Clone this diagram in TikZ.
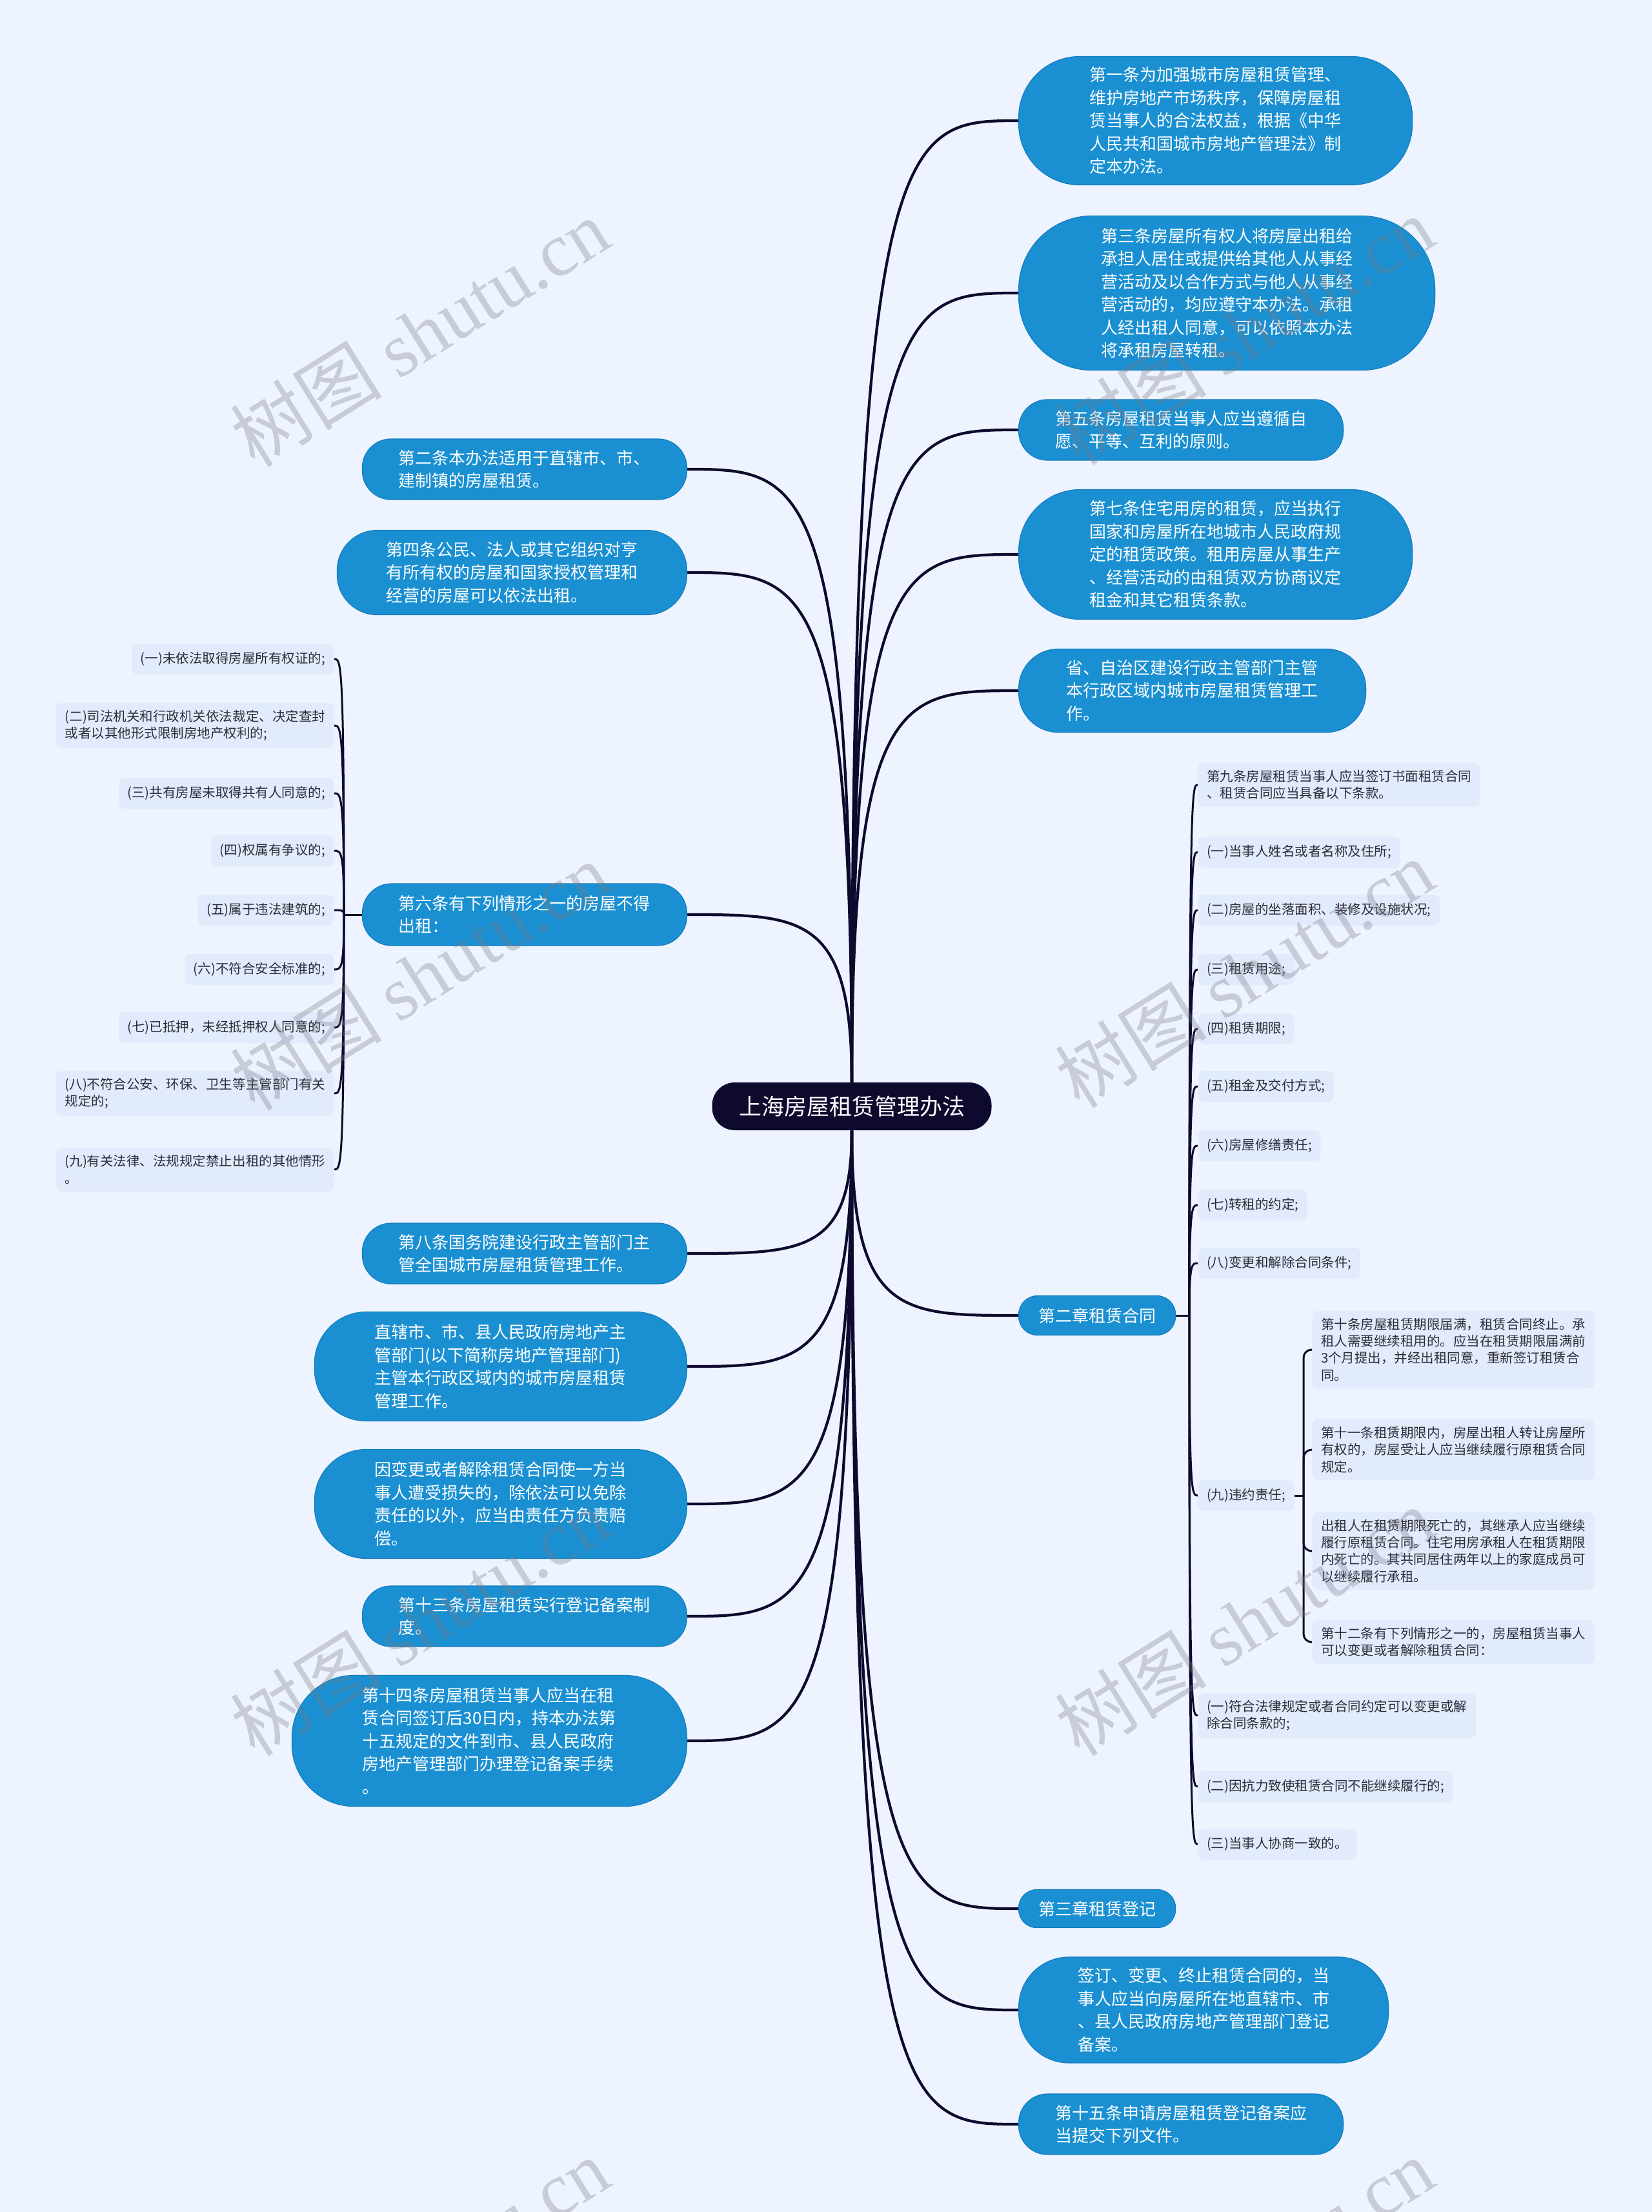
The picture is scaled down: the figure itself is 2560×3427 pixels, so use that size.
\documentclass[tikz,border=0pt]{standalone}
\usepackage{fontspec}
\setmainfont{Noto Sans CJK SC}
\newfontfamily\wmlatin{Liberation Serif}
\usetikzlibrary{calc}
\definecolor{bgc}{RGB}{238,244,255}
\definecolor{itemc}{RGB}{226,235,252}
\definecolor{bluec}{RGB}{26,144,210}
\definecolor{bluedk}{RGB}{22,125,190}
\definecolor{rootc}{RGB}{14,10,46}
\definecolor{linec}{RGB}{14,10,46}
\definecolor{itemtxt}{RGB}{45,45,55}
\definecolor{wmc}{RGB}{120,125,135}
\pgfdeclarelayer{bg}\pgfdeclarelayer{lines}\pgfdeclarelayer{fg}
\pgfsetlayers{bg,lines,main,fg}
\newcommand\conn[3]{\draw[#1] (#2) .. controls (#2 |- #3) and ($(#2 |- #3)!0.3!(#3)$) .. (#3);}
\begin{document}
\begin{tikzpicture}[x=0.4pt,y=-0.4pt,line cap=round,
  bnode/.style 2 args={fill=bluec, draw=bluedk, line width=0.5pt, text=white,
    font=\fontsize{10.4pt}{14.2pt}\selectfont, align=left, inner sep=0pt,
    minimum width=#1*0.4pt, minimum height=#2*0.4pt, rounded corners=#2*0.19pt},
  rootnode/.style={fill=rootc, text=white, font=\fontsize{14pt}{16pt}\selectfont,
    inner sep=0pt, minimum width=173.2pt, minimum height=29.6pt, rounded corners=14pt},
  item/.style={fill=itemc, text=itemtxt, font=\fontsize{8.2pt}{10.5pt}\selectfont,
    align=left, rounded corners=3.5pt, inner xsep=5.4pt, inner ysep=4.6pt, minimum height=19.2pt},
  mainline/.style={draw=linec, line width=1.7pt},
  subline/.style={draw=linec, line width=1.2pt},
  wm/.style={text=wmc, opacity=0.33, rotate=32, font=\fontsize{47pt}{47pt}\selectfont}]
\useasboundingbox (0,0) rectangle (2560,3427);
\begin{pgfonlayer}{bg}
\fill[bgc] (0,0) rectangle (2560,3427);
\end{pgfonlayer}

\node[rootnode] (root) at (1320,1714) {上海房屋租赁管理办法};

% right main branches
\node[bnode={610}{199}, anchor=west] (r1) at (1578,187) {第一条为加强城市房屋租赁管理、\\维护房地产市场秩序，保障房屋租\\赁当事人的合法权益，根据《中华\\人民共和国城市房地产管理法》制\\定本办法。};
\node[bnode={645}{239}, anchor=west] (r2) at (1578,454) {第三条房屋所有权人将房屋出租给\\承担人居住或提供给其他人从事经\\营活动及以合作方式与他人从事经\\营活动的，均应遵守本办法。承租\\人经出租人同意，可以依照本办法\\将承租房屋转租。};
\node[bnode={503}{94}, anchor=west] (r3) at (1578,666) {第五条房屋租赁当事人应当遵循自\\愿、平等、互利的原则。};
\node[bnode={610}{201}, anchor=west] (r4) at (1578,859) {第七条住宅用房的租赁，应当执行\\国家和房屋所在地城市人民政府规\\定的租赁政策。租用房屋从事生产\\、经营活动的由租赁双方协商议定\\租金和其它租赁条款。};
\node[bnode={538}{129}, anchor=west] (r5) at (1578,1070) {省、自治区建设行政主管部门主管\\本行政区域内城市房屋租赁管理工\\作。};
\node[bnode={243}{61}, anchor=west] (c2) at (1578,2038) {第二章租赁合同};
\node[bnode={243}{59}, anchor=west] (c3) at (1578,2957) {第三章租赁登记};
\node[bnode={573}{164}, anchor=west] (r6) at (1578,3114) {签订、变更、终止租赁合同的，当\\事人应当向房屋所在地直辖市、市\\、县人民政府房地产管理部门登记\\备案。};
\node[bnode={503}{94}, anchor=west] (r7) at (1578,3291) {第十五条申请房屋租赁登记备案应\\当提交下列文件。};

% left main branches
\node[bnode={503}{94}, anchor=east] (l1) at (1065,727) {第二条本办法适用于直辖市、市、\\建制镇的房屋租赁。};
\node[bnode={542}{131}, anchor=east] (l2) at (1065,887) {第四条公民、法人或其它组织对亨\\有所有权的房屋和国家授权管理和\\经营的房屋可以依法出租。};
\node[bnode={503}{96}, anchor=east] (l3) at (1065,1417) {第六条有下列情形之一的房屋不得\\出租：};
\node[bnode={503}{94}, anchor=east] (l4) at (1065,1942) {第八条国务院建设行政主管部门主\\管全国城市房屋租赁管理工作。};
\node[bnode={577}{169}, anchor=east] (l5) at (1065,2117) {直辖市、市、县人民政府房地产主\\管部门(以下简称房地产管理部门)\\主管本行政区域内的城市房屋租赁\\管理工作。};
\node[bnode={577}{169}, anchor=east] (l6) at (1065,2330) {因变更或者解除租赁合同使一方当\\事人遭受损失的，除依法可以免除\\责任的以外，应当由责任方负责赔\\偿。};
\node[bnode={503}{94}, anchor=east] (l7) at (1065,2504) {第十三条房屋租赁实行登记备案制\\度。};
\node[bnode={612}{203}, anchor=east] (l8) at (1065,2697) {第十四条房屋租赁当事人应当在租\\赁合同签订后30日内，持本办法第\\十五规定的文件到市、县人民政府\\房地产管理部门办理登记备案手续\\。};

% items of 第六条
\node[item, anchor=east] (a1) at (518,1021) {(一)未依法取得房屋所有权证的;};
\node[item, anchor=east] (a2) at (518,1124) {(二)司法机关和行政机关依法裁定、决定查封\\或者以其他形式限制房地产权利的;};
\node[item, anchor=east] (a3) at (518,1229) {(三)共有房屋未取得共有人同意的;};
\node[item, anchor=east] (a4) at (518,1318) {(四)权属有争议的;};
\node[item, anchor=east] (a5) at (518,1410) {(五)属于违法建筑的;};
\node[item, anchor=east] (a6) at (518,1502) {(六)不符合安全标准的;};
\node[item, anchor=east] (a7) at (518,1592) {(七)已抵押，未经抵押权人同意的;};
\node[item, anchor=east] (a8) at (518,1694) {(八)不符合公安、环保、卫生等主管部门有关\\规定的;};
\node[item, anchor=east] (a9) at (518,1812) {(九)有关法律、法规规定禁止出租的其他情形\\。};

% items of 第二章
\node[item, anchor=west] (b0) at (1856,1216) {第九条房屋租赁当事人应当签订书面租赁合同\\、租赁合同应当具备以下条款。};
\node[item, anchor=west] (b1) at (1856,1320) {(一)当事人姓名或者名称及住所;};
\node[item, anchor=west] (b2) at (1856,1410) {(二)房屋的坐落面积、装修及设施状况;};
\node[item, anchor=west] (b3) at (1856,1502) {(三)租赁用途;};
\node[item, anchor=west] (b4) at (1856,1594) {(四)租赁期限;};
\node[item, anchor=west] (b5) at (1856,1683) {(五)租金及交付方式;};
\node[item, anchor=west] (b6) at (1856,1775) {(六)房屋修缮责任;};
\node[item, anchor=west] (b7) at (1856,1867) {(七)转租的约定;};
\node[item, anchor=west] (b8) at (1856,1957) {(八)变更和解除合同条件;};
\node[item, anchor=west] (b9) at (1856,2317) {(九)违约责任;};
\node[item, anchor=west] (b10) at (1856,2658) {(一)符合法律规定或者合同约定可以变更或解\\除合同条款的;};
\node[item, anchor=west] (b11) at (1856,2768) {(二)因抗力致使租赁合同不能继续履行的;};
\node[item, anchor=west] (b12) at (1856,2857) {(三)当事人协商一致的。};

% items of 违约责任
\node[item, anchor=west] (d1) at (2033,2091) {第十条房屋租赁期限届满，租赁合同终止。承\\租人需要继续租用的。应当在租赁期限届满前\\3个月提出，并经出租同意，重新签订租赁合\\同。};
\node[item, anchor=west] (d2) at (2033,2246) {第十一条租赁期限内，房屋出租人转让房屋所\\有权的，房屋受让人应当继续履行原租赁合同\\规定。};
\node[item, anchor=west] (d3) at (2033,2403) {出租人在租赁期限死亡的，其继承人应当继续\\履行原租赁合同。住宅用房承租人在租赁期限\\内死亡的。其共同居住两年以上的家庭成员可\\以继续履行承租。};
\node[item, anchor=west] (d4) at (2033,2544) {第十二条有下列情形之一的，房屋租赁当事人\\可以变更或者解除租赁合同：};

\coordinate (t6) at (533,1417);
\coordinate (t2) at (1843,2038);
\coordinate (t9) at (2020,2317);

\begin{pgfonlayer}{lines}
\foreach \n in {r1,r2,r3,r4,r5,c2,c3,r6,r7} {\conn{mainline}{root}{\n.west}}
\foreach \n in {l1,l2,l3,l4,l5,l6,l7,l8} {\conn{mainline}{root}{\n.east}}
\draw[subline] (l3.west) -- (t6);
\foreach \n in {a1,a2,a3,a4,a5,a6,a7,a8,a9} {\conn{subline}{t6}{\n.east}}
\draw[subline] (c2.east) -- (t2);
\foreach \n in {b0,b1,b2,b3,b4,b5,b6,b7,b8,b9,b10,b11,b12} {\conn{subline}{t2}{\n.west}}
\draw[subline] (b9.east) -- (t9);
\foreach \n in {d1,d2,d3,d4} {\draw[subline, rounded corners=5pt] (t9) |- (\n.west);}
\end{pgfonlayer}

\begin{pgfonlayer}{fg}
\foreach \x/\y [count=\i] in {650/515, 1928/512, 650/1512, 1928/1508, 650/2512, 1928/2512, 650/3520, 1928/3520}
  \node[wm] (wm\i) at (\x,\y) {树图 {\wmlatin shutu.cn}};
\end{pgfonlayer}
\end{tikzpicture}
\end{document}
